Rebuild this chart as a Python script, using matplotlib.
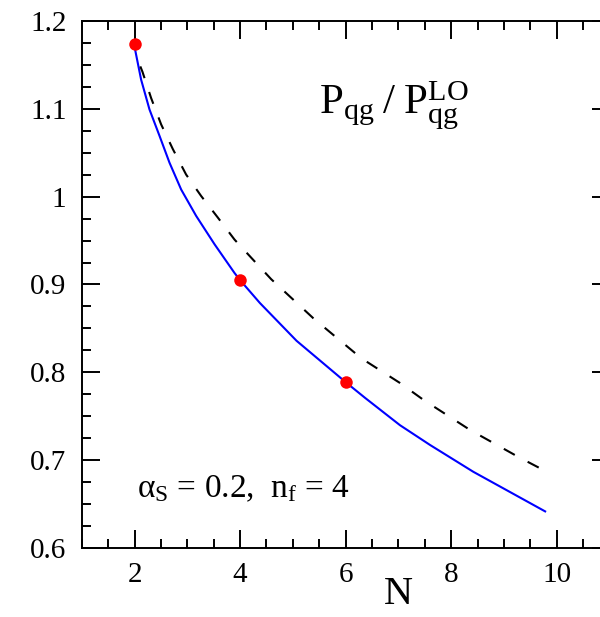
import matplotlib
matplotlib.use("Agg")
import matplotlib.pyplot as plt
from matplotlib.ticker import MultipleLocator

# ---------------------------
# Data
# ---------------------------
n_full = [2.0, 2.01, 2.125, 2.284, 2.474, 2.663, 2.884, 3.168, 3.517, 3.896, 4.0,
          4.375, 5.07, 6.0, 6.37, 7.03, 7.60, 8.42, 9.78]
ratio_full = [1.174, 1.1675, 1.133, 1.099, 1.069, 1.0385, 1.008, 0.978, 0.9457, 0.913, 0.905,
              0.879, 0.836, 0.789, 0.771, 0.740, 0.7175, 0.687, 0.642]

n_approx = [2.11, 2.15, 2.315, 2.505, 2.726, 2.978, 3.263, 3.58, 3.896, 4.24, 4.59,
            5.39, 6.30, 7.03, 7.47, 8.36, 9.27, 9.78]
ratio_approx = [1.148, 1.142, 1.112, 1.082, 1.054, 1.025, 1.0006, 0.976, 0.951, 0.9286, 0.906,
                0.8615, 0.816, 0.788, 0.769, 0.7345, 0.704, 0.688]

n_points = [2, 4, 6]
ratio_points = [1.174, 0.905, 0.789]

x_ticks = [2, 4, 6, 8, 10]
y_ticks = [0.6, 0.7, 0.8, 0.9, 1.0, 1.1, 1.2]
y_ticklabels = ["0.6", "0.7", "0.8", "0.9", "1", "1.1", "1.2"]

# ---------------------------
# Style
# ---------------------------
plt.rcParams['font.family'] = 'serif'
plt.rcParams['font.serif'] = ['Liberation Serif', 'DejaVu Serif']
plt.rcParams['mathtext.fontset'] = 'custom'
plt.rcParams['mathtext.rm'] = 'Liberation Serif'
plt.rcParams['mathtext.it'] = 'Liberation Serif:italic'

fig = plt.figure(figsize=(6, 6.17), dpi=100)
ax = fig.add_axes([0.1362, 0.1113, 0.8797, 0.8552])

ax.plot(n_full, ratio_full, color='#0000ff', lw=1.5, zorder=2)
ax.plot(n_approx, ratio_approx, color='black', lw=1.5, dashes=(6, 7), zorder=2)
ax.plot(n_points, ratio_points, 'o', color='#ff0000', ms=9, mec='none', zorder=3)

ax.set_xlim(1, 11)
ax.set_ylim(0.6, 1.2)
ax.set_xticks(x_ticks)
ax.set_yticks(y_ticks)
ax.set_yticklabels(y_ticklabels)
ax.xaxis.set_minor_locator(MultipleLocator(0.5))
ax.yaxis.set_minor_locator(MultipleLocator(0.025))

ax.tick_params(which='both', direction='in', top=True, right=True, width=1.4, labelsize=21)
ax.tick_params(which='major', length=13)
ax.tick_params(which='minor', length=6.5)
ax.tick_params(axis='x', pad=10)
ax.tick_params(axis='y', pad=11)
for s in ax.spines.values():
    s.set_linewidth(1.4)

ax.set_xlabel('N', fontsize=29)
ax.xaxis.set_label_coords(0.6, -0.052)

ax.text(5.49, 1.093, r'$\mathrm{P_{qg}\;/\;P_{qg}^{LO}}$', fontsize=31)
ax.text(2.04, 0.658, 'α$_\\mathrm{S}$ = 0.2,  n$_\\mathrm{f}$ = 4', fontsize=24)

fig.savefig('out.png', dpi=100)
